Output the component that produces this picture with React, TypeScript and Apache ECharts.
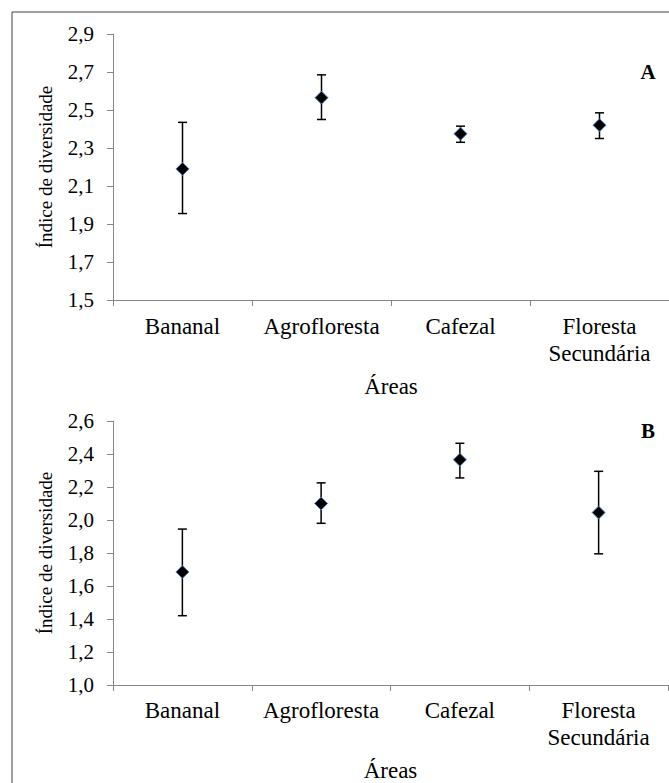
import React, { useEffect, useRef } from "react";
import * as echarts from "echarts";

const categories = ["Bananal", "Agrofloresta", "Cafezal", "Floresta\nSecundária"];

// Panel A
const meanA = [2.19, 2.565, 2.375, 2.42];
const lowA = [1.955, 2.45, 2.33, 2.35];
const highA = [2.435, 2.685, 2.415, 2.485];
const minA = 1.5;
const maxA = 2.9;

// Panel B
const meanB = [1.685, 2.1, 2.365, 2.045];
const lowB = [1.42, 1.98, 2.255, 1.795];
const highB = [1.945, 2.225, 2.465, 2.295];
const minB = 1.0;
const maxB = 2.6;

const tickStep = 0.2;
const yTitle = "Índice de diversidade";
const xTitle = "Áreas";
const panelLetters = ["A", "B"];

const FONT = "Liberation Serif";
const AXIS_GRAY = "#868686";

export default function App() {
  const ref = useRef<HTMLDivElement>(null);

  useEffect(() => {
    if (!ref.current) return;
    const chart = echarts.init(ref.current, null, { renderer: "svg" });

    const fmt = (offset: number) => (v: number) =>
      (v + offset).toFixed(1).replace(".", ",");

    const xAxisCommon = (gridIndex: number, labelMargin: number, nameGap: number) => ({
      type: "category",
      gridIndex,
      data: categories,
      boundaryGap: true,
      axisLine: { show: true, lineStyle: { color: AXIS_GRAY, width: 1 } },
      axisTick: { show: true, alignWithLabel: false, length: 6, lineStyle: { color: AXIS_GRAY } },
      axisLabel: {
        color: "#000",
        fontFamily: FONT,
        fontSize: 23,
        lineHeight: 27,
        margin: labelMargin,
        interval: 0,
      },
      name: xTitle,
      nameLocation: "middle",
      nameGap,
      nameTextStyle: { color: "#000", fontFamily: FONT, fontSize: 23 },
    });

    const yAxisCommon = (gridIndex: number, offset: number, min: number, max: number) => ({
      type: "value",
      gridIndex,
      min: 0,
      max: +(max - min).toFixed(6),
      interval: tickStep,
      axisLine: { show: true, lineStyle: { color: AXIS_GRAY, width: 1 } },
      axisTick: { show: true, length: 6, lineStyle: { color: AXIS_GRAY } },
      splitLine: { show: false },
      axisLabel: {
        color: "#000",
        fontFamily: FONT,
        fontSize: 21,
        margin: 19,
        formatter: fmt(offset),
      },
      name: yTitle,
      nameLocation: "middle",
      nameGap: 58,
      nameRotate: 90,
      nameTextStyle: { color: "#000", fontFamily: FONT, fontSize: 19 },
    });

    const errData = (low: number[], high: number[], off: number) =>
      categories.map((_, i) => [i, low[i] - off, high[i] - off]);

    const renderErr = (params: any, api: any) => {
      const idx = api.value(0);
      const lo = api.coord([idx, api.value(1)]);
      const hi = api.coord([idx, api.value(2)]);
      const cap = 4.5;
      const style = { stroke: "#000", lineWidth: 1.5 };
      return {
        type: "group",
        children: [
          { type: "line", shape: { x1: lo[0], y1: lo[1], x2: hi[0], y2: hi[1] }, style },
          { type: "line", shape: { x1: lo[0] - cap, y1: lo[1], x2: lo[0] + cap, y2: lo[1] }, style },
          { type: "line", shape: { x1: hi[0] - cap, y1: hi[1], x2: hi[0] + cap, y2: hi[1] }, style },
        ],
      };
    };

    const markerSeries = (idx: number, mean: number[], off: number) => ({
      type: "scatter",
      xAxisIndex: idx,
      yAxisIndex: idx,
      symbol: "diamond",
      symbolSize: 13,
      z: 5,
      itemStyle: { color: "#000", borderColor: "#4f81bd", borderWidth: 1, opacity: 1 },
      data: mean.map((v, i) => [i, v - off]),
    });

    const errSeries = (idx: number, low: number[], high: number[], off: number) => ({
      type: "custom",
      xAxisIndex: idx,
      yAxisIndex: idx,
      z: 3,
      renderItem: renderErr,
      data: errData(low, high, off),
    });

    const letter = (text: string, x: number, y: number) => ({
      type: "text",
      x,
      y,
      style: {
        text,
        fontFamily: FONT,
        fontSize: 21,
        fontWeight: "bold",
        fill: "#000",
        align: "center",
        verticalAlign: "middle",
      },
    });

    chart.setOption({
      animation: false,
      backgroundColor: "#fff",
      grid: [
        { left: 113, top: 34, width: 562, height: 266, containLabel: false },
        { left: 113, top: 421, width: 555, height: 264, containLabel: false },
      ],
      xAxis: [xAxisCommon(0, 13, 75), xAxisCommon(1, 12, 74)],
      yAxis: [yAxisCommon(0, minA, minA, maxA), yAxisCommon(1, minB, minB, maxB)],
      series: [
        errSeries(0, lowA, highA, minA),
        markerSeries(0, meanA, minA),
        errSeries(1, lowB, highB, minB),
        markerSeries(1, meanB, minB),
      ],
      graphic: [
        {
          type: "rect",
          shape: { x: 12, y: 12, width: 720, height: 800 },
          style: { fill: "none", stroke: "#404040", lineWidth: 1 },
          silent: true,
        },
        letter(panelLetters[0], 648, 72),
        letter(panelLetters[1], 648, 431),
      ],
    });

    return () => chart.dispose();
  }, []);

  return (
    <div
      ref={ref}
      style={{ position: "absolute", left: 0, top: 0, width: 669, height: 783 }}
    />
  );
}
